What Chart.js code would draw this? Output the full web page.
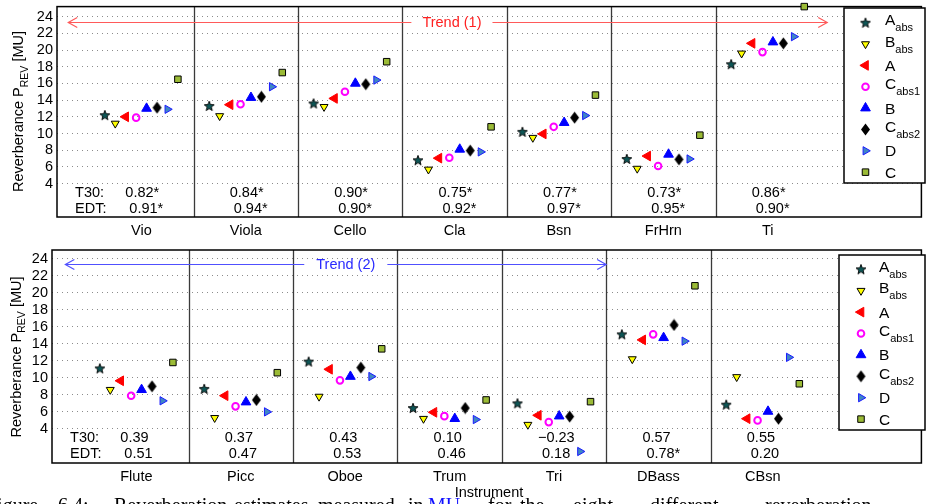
<!DOCTYPE html>
<html><head><meta charset="utf-8">
<script src="https://cdn.jsdelivr.net/npm/chart.js@4.4.1/dist/chart.umd.min.js"></script>
<style>
html,body{margin:0;padding:0;background:#fff;overflow:hidden;width:926px;height:504px;}
canvas{position:absolute;left:0;display:block;}
#c1{top:0}
#c2{top:240px}
</style></head><body>
<canvas id="c1" width="926" height="240"></canvas>
<canvas id="c2" width="926" height="264"></canvas>
<script>
// ---------------- DATA ----------------
const catsTop = ['Vio','Viola','Cello','Cla','Bsn','FrHrn','Ti'];
const catsBottom = ['Flute','Picc','Oboe','Trum','Tri','DBass','CBsn'];
const yTickLabels = [4,6,8,10,12,14,16,18,20,22,24];
const seriesNames = [['A','abs'],['B','abs'],['A',''],['C','abs1'],['B',''],['C','abs2'],['D',''],['C','']];
const seriesOffsets = [-0.35,-0.25,-0.15,-0.05,0.05,0.15,0.25,0.35];

const topAabs  = [12.2,13.3,13.6,6.8,10.2,6.95,18.3];
const topBabs  = [11.2,12.1,13.2,5.7,9.5,5.8,19.6];
const topA     = [12.0,13.45,14.2,7.05,9.95,7.3,20.8];
const topCabs1 = [11.9,13.5,15.0,7.1,10.8,6.1,19.75];
const topB     = [13.0,14.3,16.0,8.1,11.3,7.5,20.95];
const topCabs2 = [13.1,14.4,15.9,7.95,11.9,6.9,20.8];
const topD     = [12.9,15.6,16.4,7.8,12.15,6.95,21.6];
const topC     = [16.5,17.3,18.6,10.8,14.6,9.8,25.2];

const botAabs  = [11.1,8.7,11.9,6.45,7.0,15.1,6.85];
const botBabs  = [8.6,5.3,7.8,5.2,4.5,12.2,10.1];
const botA     = [9.65,7.9,11.0,5.95,5.6,14.45,5.2];
const botCabs1 = [7.9,6.65,9.7,5.5,4.8,15.1,5.0];
const botB     = [8.6,7.15,10.15,5.2,5.5,14.7,6.05];
const botCabs2 = [9.0,7.4,11.2,6.45,5.45,16.2,5.2];
const botD     = [7.3,6.0,10.15,5.1,1.35,14.3,12.4];
const botC     = [11.8,10.6,13.4,7.4,7.2,20.8,9.3];

const topT30 = ['0.82*','0.84*','0.90*','0.75*','0.77*','0.73*','0.86*'];
const topEDT = ['0.91*','0.94*','0.90*','0.92*','0.97*','0.95*','0.90*'];
const botT30 = ['0.39','0.37','0.43','0.10','\u22120.23','0.57','0.55'];
const botEDT = ['0.51','0.47','0.53','0.46','0.18','0.78*','0.20'];

const captionWords = ['Figure','6.4:','Reverberation','estimates','measured','in','MU','for','the','eight','different','reverberation'];

// ---------------- STYLES ----------------
const FONT = '"Liberation Sans", Arial, Helvetica, sans-serif';
function makeStar(){
  const c=document.createElement('canvas'); c.width=12; c.height=12;
  const g=c.getContext('2d'); g.beginPath();
  for(let i=0;i<10;i++){const r=i%2?2.2:5.2; const a=-Math.PI/2+i*Math.PI/5; g.lineTo(6+r*Math.cos(a),6.4+r*Math.sin(a));}
  g.closePath(); g.fillStyle='#0e5656'; g.fill(); g.lineWidth=0.9; g.strokeStyle='#000'; g.stroke(); return c;
}
function makeDiamond(){
  const c=document.createElement('canvas'); c.width=11; c.height=13;
  const g=c.getContext('2d'); g.beginPath();
  g.moveTo(5.5,0.5); g.lineTo(10,6.5); g.lineTo(5.5,12.5); g.lineTo(1,6.5); g.closePath();
  g.fillStyle='#000'; g.fill(); return c;
}
const starImg = makeStar(), diamondImg = makeDiamond();
const markerStyles = [
  {pointStyle:starImg, rotation:0, radius:5, bg:'#0e5656', border:'#000', bw:0},
  {pointStyle:'triangle', rotation:180, radius:4.6, bg:'#ffff00', border:'#000', bw:1},
  {pointStyle:'triangle', rotation:270, radius:5.6, bg:'#ff0000', border:'#ff0000', bw:1},
  {pointStyle:'circle', rotation:0, radius:3.3, bg:'rgba(255,255,255,0)', border:'#ff00ff', bw:2},
  {pointStyle:'triangle', rotation:0, radius:5.6, bg:'#0000ff', border:'#0000ff', bw:1},
  {pointStyle:diamondImg, rotation:0, radius:5, bg:'#000', border:'#000', bw:0},
  {pointStyle:'triangle', rotation:90, radius:4.8, bg:'#3f86c4', border:'#1a1aff', bw:1},
  {pointStyle:'rect', rotation:0, radius:4.6, bg:'#9bbb36', border:'#000', bw:1}
];

function buildDatasets(seriesList){
  return seriesList.map((vals,k)=>({
    label: seriesNames[k].join(''),
    data: vals.map((v,i)=>({x:i+seriesOffsets[k], y:v})),
    showLine:false, clip:false,
    pointStyle: markerStyles[k].pointStyle,
    pointRotation: markerStyles[k].rotation,
    pointRadius: markerStyles[k].radius,
    pointHoverRadius: markerStyles[k].radius,
    pointBackgroundColor: markerStyles[k].bg,
    pointBorderColor: markerStyles[k].border,
    pointBorderWidth: markerStyles[k].bw
  }));
}

function zeroPad(s){ s.paddingTop=0; s.paddingBottom=0; s.paddingLeft=0; s.paddingRight=0; }

function panelPlugin(cfg){
  return {
    id:'panel'+cfg.id,
    beforeDatasetsDraw(chart){
      const ctx=chart.ctx, a=chart.chartArea, xs=chart.scales.x, ys=chart.scales.y;
      ctx.save();
      // separators
      ctx.strokeStyle='#3a3a3a'; ctx.lineWidth=1.3;
      for(let i=0;i<cfg.cats.length-1;i++){
        const px=Math.round(xs.getPixelForValue(i+0.5))+0.5;
        ctx.beginPath(); ctx.moveTo(px,a.top); ctx.lineTo(px,a.bottom); ctx.stroke();
      }
      // T30 / EDT
      ctx.fillStyle='#000'; ctx.font='14.5px '+FONT; ctx.textBaseline='middle'; ctx.textAlign='left';
      const yT=ys.getPixelForValue(2.9), yE=ys.getPixelForValue(1.0);
      ctx.fillText('T30:', xs.getPixelForValue(-0.635), yT);
      ctx.fillText('EDT:', xs.getPixelForValue(-0.635), yE);
      cfg.t30.forEach((t,i)=>ctx.fillText(t, xs.getPixelForValue(i)-16, yT));
      cfg.edt.forEach((t,i)=>ctx.fillText(t, xs.getPixelForValue(i)-12, yE));
      // trend arrow
      const ty=Math.round(ys.getPixelForValue(23.4))+0.5;
      const xl=xs.getPixelForValue(cfg.trend.from), xr=xs.getPixelForValue(cfg.trend.to), xc=xs.getPixelForValue(cfg.trend.center);
      ctx.font='14.5px '+FONT; const tw=ctx.measureText(cfg.trend.text).width;
      ctx.strokeStyle=cfg.trend.line; ctx.lineWidth=1.2;
      ctx.beginPath(); ctx.moveTo(xl,ty); ctx.lineTo(xc-tw/2-cfg.trend.gap,ty);
      ctx.moveTo(xc+tw/2+cfg.trend.gap,ty); ctx.lineTo(xr,ty); ctx.stroke();
      ctx.beginPath(); ctx.moveTo(xl+9,ty-5); ctx.lineTo(xl,ty); ctx.lineTo(xl+9,ty+5);
      ctx.moveTo(xr-9,ty-5); ctx.lineTo(xr,ty); ctx.lineTo(xr-9,ty+5); ctx.stroke();
      ctx.fillStyle=cfg.trend.textColor; ctx.textAlign='center'; ctx.textBaseline='middle';
      ctx.fillText(cfg.trend.text, xc, ty+0.5);
      // box
      ctx.strokeStyle='#000'; ctx.lineWidth=1.5;
      ctx.strokeRect(a.left, a.top, a.right-a.left+2, a.bottom-a.top);
      ctx.restore();
    },
    afterDatasetsDraw(chart){
      const ctx=chart.ctx;
      ctx.save();
      // legend
      const L=cfg.legend;
      ctx.fillStyle='#fff'; ctx.fillRect(L.x,L.y,L.w,L.h);
      ctx.strokeStyle='#000'; ctx.lineWidth=1.5; ctx.strokeRect(L.x,L.y,L.w,L.h);
      chart.data.datasets.forEach((ds,k)=>{
        const ry=L.y+L.first+k*L.step, mx=L.x+L.mx;
        const st=markerStyles[k];
        ctx.fillStyle=st.bg; ctx.strokeStyle=st.border; ctx.lineWidth=st.bw;
        Chart.helpers.drawPoint(ctx,{pointStyle:st.pointStyle, rotation:st.rotation, radius:st.radius, borderWidth:st.bw}, mx, ry);
        const nm=seriesNames[k];
        ctx.fillStyle='#000'; ctx.textAlign='left'; ctx.textBaseline='alphabetic';
        ctx.font='15.5px '+FONT;
        const tx=L.x+L.tx;
        if(nm[1]){
          ctx.fillText(nm[0], tx, ry+2.5);
          const w=ctx.measureText(nm[0]).width;
          ctx.font='11px '+FONT; ctx.fillText(nm[1], tx+w, ry+8.5);
        } else {
          ctx.fillText(nm[0], tx, ry+5.5);
        }
      });
      // y title
      ctx.translate(cfg.title.bx, cfg.title.cy); ctx.rotate(-Math.PI/2);
      ctx.fillStyle='#000'; ctx.textAlign='left'; ctx.textBaseline='alphabetic';
      const p1='Reverberance P', p2='REV', p3=' [MU]';
      ctx.font='14.5px '+FONT; const w1=ctx.measureText(p1).width, w3=ctx.measureText(p3).width;
      ctx.font='10.5px '+FONT; const w2=ctx.measureText(p2).width;
      let x0=-(w1+w2+w3)/2;
      ctx.font='14.5px '+FONT; ctx.fillText(p1,x0,0);
      ctx.font='10.5px '+FONT; ctx.fillText(p2,x0+w1,4.5);
      ctx.font='14.5px '+FONT; ctx.fillText(p3,x0+w1+w2,0);
      ctx.restore();
      if(cfg.after) cfg.after(chart);
    }
  };
}

function makeChart(el, cfg){
  return new Chart(el, {
    type:'scatter',
    data:{datasets: buildDatasets(cfg.series)},
    options:{
      responsive:false, animation:false, devicePixelRatio:1,
      layout:{padding:{top:cfg.padTop,left:0,right:0,bottom:0}},
      plugins:{legend:{display:false}, tooltip:{enabled:false}, title:{display:false}},
      scales:{
        x:{type:'linear', min:cfg.xmin, max:cfg.xmax,
           afterBuildTicks:s=>{ s.ticks = cfg.cats.map((c,i)=>({value:i})); },
           ticks:{callback:(v,i)=>cfg.cats[i], autoSkip:false, maxRotation:0, minRotation:0, padding:5, color:'#000', font:{size:14.5, family:FONT}},
           grid:{display:false, drawTicks:false}, border:{display:false},
           afterFit:s=>{ s.height = cfg.xh; zeroPad(s); }},
        y:{min:0, max:cfg.ymax,
           afterBuildTicks:s=>{ s.ticks = yTickLabels.map(v=>({value:v})); },
           ticks:{callback:v=>String(v), padding:4, color:'#000', font:{size:14.5, family:FONT}},
           grid:{color:'#8c8c8c', lineWidth:1, drawTicks:false},
           border:{display:false, dash:[1,4]},
           afterFit:s=>{ s.width = cfg.yw; zeroPad(s); }}
      }
    },
    plugins:[panelPlugin(cfg)]
  });
}

makeChart(document.getElementById('c1'), {
  id:1, cats:catsTop, t30:topT30, edt:topEDT,
  series:[topAabs,topBabs,topA,topCabs1,topB,topCabs2,topD,topC],
  padTop:3, xh:23, yw:57, xmin:-0.808, xmax:7.453, ymax:25.2,
  trend:{text:'Trend (1)', from:-0.70, to:6.57, center:2.975, gap:11, line:'#ff5a5a', textColor:'#ff2020'},
  legend:{x:844, y:8, w:81, h:175, first:14.7, step:21.35, mx:21.5, tx:41},
  title:{bx:23, cy:111.5}
});

makeChart(document.getElementById('c2'), {
  id:2, cats:catsBottom, t30:botT30, edt:botEDT,
  series:[botAabs,botBabs,botA,botCabs1,botB,botCabs2,botD,botC],
  padTop:10, xh:41, yw:52, xmin:-0.808, xmax:7.50, ymax:25,
  trend:{text:'Trend (2)', from:-0.68, to:4.5, center:2.006, gap:12, line:'#5050ff', textColor:'#2a2aff'},
  legend:{x:839, y:15, w:86, h:175, first:14.3, step:21.4, mx:22, tx:40},
  title:{bx:20.5, cy:117},
  after:(chart)=>{
    const ctx=chart.ctx; ctx.save();
    ctx.fillStyle='#000'; ctx.font='14.5px '+FONT; ctx.textAlign='center'; ctx.textBaseline='alphabetic';
    ctx.fillText('Instrument', 489, 257);
    // caption (cut off at page bottom)
    ctx.font='20px "Liberation Serif", "DejaVu Serif", serif'; ctx.textAlign='left';
    const xsCap=[-14,58,114,234,318,408,428,488,520,573,650,765];
    captionWords.forEach((w,i)=>{ ctx.fillStyle = w==='MU' ? '#1010ff' : '#000'; ctx.fillText(w, xsCap[i], 272); });
    ctx.restore();
  }
});
</script>
</body></html>
